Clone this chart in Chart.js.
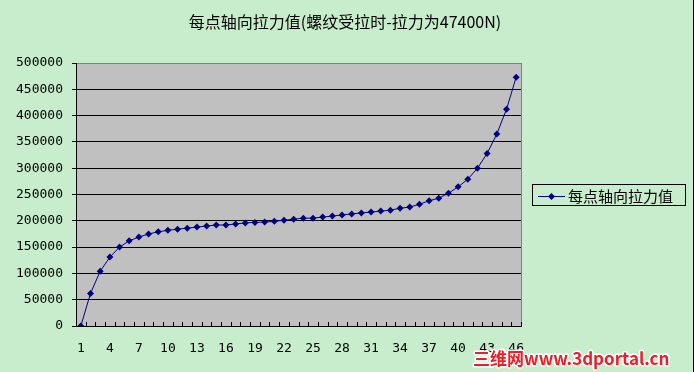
<!DOCTYPE html>
<html>
<head>
<meta charset="utf-8">
<script src="https://cdn.jsdelivr.net/npm/chart.js@4/dist/chart.umd.min.js"></script>
<style>
  html, body { margin: 0; padding: 0; background: #C7EDCC; }
  #wrap { position: relative; width: 694px; height: 372px; }
</style>
</head>
<body>
<div id="wrap"><canvas id="myChart" width="694" height="372"></canvas></div>
<script>
const categories = ['1', '2', '3', '4', '5', '6', '7', '8', '9', '10',
  '11', '12', '13', '14', '15', '16', '17', '18', '19', '20',
  '21', '22', '23', '24', '25', '26', '27', '28', '29', '30',
  '31', '32', '33', '34', '35', '36', '37', '38', '39', '40',
  '41', '42', '43', '44', '45', '46'];
const axialForce = [0, 62000, 104000, 131000, 150000, 162000, 169000, 175000, 179000, 182000,
  184000, 186000, 188000, 190000, 192000, 192000, 194000, 196000, 197000, 197500,
  199000, 201000, 203000, 205000, 205000, 207000, 209000, 211000, 213000, 215000,
  216500, 218500, 220000, 224000, 226000, 231500, 238000, 243000, 252500, 264500,
  279000, 300000, 328000, 365000, 412000, 473000];
const seriesName = '每点轴向拉力值';
const chartTitle = '每点轴向拉力值(螺纹受拉时-拉力为47400N)';
const watermark = '三维网www.3dportal.cn';

const monoFont = '"DejaVu Sans Mono", "Liberation Mono", monospace';
const cjkFont = '"Noto Sans CJK SC", "DejaVu Sans", sans-serif';

// gray plot area, frame, inward x ticks, title, boxed legend, watermark
const excelLook = {
  id: 'excelLook',
  beforeDraw: (chart) => {
    const { ctx, chartArea: a } = chart;
    ctx.save();
    ctx.fillStyle = '#C0C0C0';
    ctx.fillRect(a.left, a.top, a.right - a.left, a.bottom - a.top);
    ctx.restore();
  },
  afterDraw: (chart) => {
    const { ctx, chartArea: a } = chart;
    const xScale = chart.scales.x;
    ctx.save();
    // right border of plot
    ctx.strokeStyle = '#808080';
    ctx.lineWidth = 1;
    ctx.beginPath();
    ctx.moveTo(Math.round(a.right) + 0.5, a.top);
    ctx.lineTo(Math.round(a.right) + 0.5, a.bottom);
    ctx.stroke();
    // inward tick marks on category boundaries
    ctx.strokeStyle = '#000000';
    ctx.beginPath();
    for (let i = 0; i <= categories.length; i += 1) {
      const px = Math.round(xScale.getPixelForValue(i - 0.5)) + 0.5;
      ctx.moveTo(px, a.bottom);
      ctx.lineTo(px, a.bottom - 4);
    }
    ctx.stroke();
    // outer frame line at right edge
    ctx.beginPath();
    ctx.moveTo(693.5, 0);
    ctx.lineTo(693.5, 372);
    ctx.stroke();

    // title
    ctx.fillStyle = '#000000';
    ctx.font = '16px ' + cjkFont;
    ctx.textBaseline = 'middle';
    ctx.textAlign = 'center';
    ctx.fillText(chartTitle, 345, 22);

    // legend box
    const ds = chart.data.datasets[0];
    ctx.lineWidth = 1;
    ctx.strokeStyle = '#000000';
    ctx.strokeRect(532.5, 184.5, 153, 21);
    ctx.strokeStyle = ds.borderColor;
    ctx.beginPath();
    ctx.moveTo(538, 196.5);
    ctx.lineTo(565, 196.5);
    ctx.stroke();
    ctx.fillStyle = ds.pointBackgroundColor;
    ctx.beginPath();
    ctx.moveTo(551.5, 193);
    ctx.lineTo(555, 196.5);
    ctx.lineTo(551.5, 200);
    ctx.lineTo(548, 196.5);
    ctx.closePath();
    ctx.fill();
    ctx.fillStyle = '#000000';
    ctx.font = '15px ' + cjkFont;
    ctx.textAlign = 'left';
    ctx.fillText(ds.label, 568, 196);

    // watermark
    ctx.font = 'bold 17px ' + cjkFont;
    ctx.lineJoin = 'round';
    ctx.lineWidth = 3;
    ctx.strokeStyle = '#FFFFFF';
    ctx.strokeText(watermark, 473, 359);
    ctx.fillStyle = '#E8202A';
    ctx.fillText(watermark, 473, 359);
    ctx.restore();
  },
};

const ctx = document.getElementById('myChart').getContext('2d');
const myChart = new Chart(ctx, {
  type: 'line',
  data: {
    labels: categories,
    datasets: [{
      label: seriesName,
      data: axialForce,
      borderColor: '#000080',
      borderWidth: 1,
      pointStyle: 'rectRot',
      pointRadius: 3.5,
      pointBorderWidth: 0,
      pointBackgroundColor: '#000080',
      pointBorderColor: '#000080',
      tension: 0,
    }],
  },
  options: {
    responsive: false,
    animation: false,
    layout: {
      padding: { left: 0, right: 173, top: 63, bottom: 0 },
    },
    plugins: {
      legend: { display: false },
      tooltip: { enabled: false },
      title: { display: false },
    },
    scales: {
      x: {
        offset: true,
        grid: { display: false, drawOnChartArea: false, drawTicks: false },
        border: { display: true, color: '#000000', width: 1 },
        ticks: {
          autoSkip: false,
          maxRotation: 0,
          padding: 15,
          color: '#000000',
          font: { family: monoFont, size: 13 },
          callback: (value, index) => (index % 3 === 0 ? categories[index] : ''),
        },
        afterFit: (scale) => { scale.height = 46; },
      },
      y: {
        min: 0,
        max: 500000,
        grid: {
          color: (c) => (c.tick && c.tick.value === 500000 ? '#808080' : '#000000'),
          lineWidth: 1,
          drawTicks: true,
          tickLength: 4,
          tickColor: '#000000',
        },
        border: { display: true, color: '#000000', width: 1 },
        ticks: {
          stepSize: 50000,
          padding: 9,
          color: '#000000',
          font: { family: monoFont, size: 13 },
          callback: (value) => String(value),
        },
        afterFit: (scale) => { scale.width = 76; },
      },
    },
  },
  plugins: [excelLook],
});
console.warn(myChart.chartArea);
</script>
</body>
</html>
